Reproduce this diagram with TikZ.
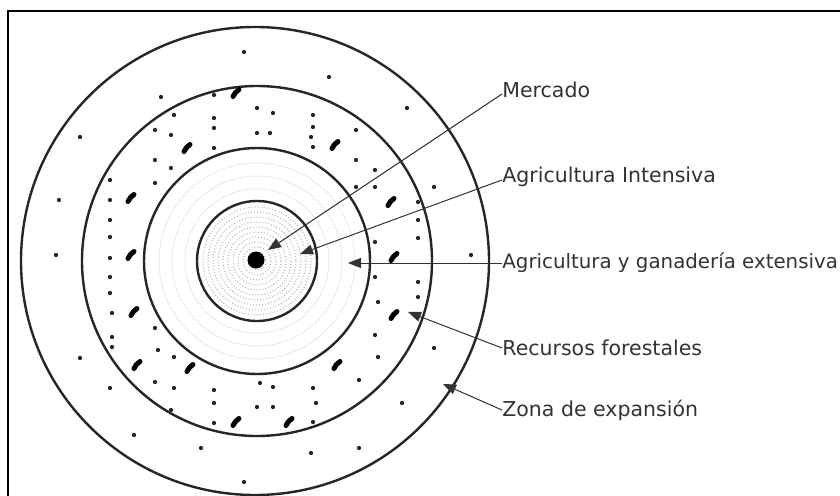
\documentclass[tikz,border=0pt]{standalone}
\usepackage{fontspec}
\setmainfont{DejaVu Sans}
\usetikzlibrary{arrows.meta}

\begin{document}
\begin{tikzpicture}[x=1pt, y=-1pt, thick,
		ring/.style = {draw, circle, inner sep=0pt, line width=2.4pt, black!85},
		lab/.style = {anchor=west, inner sep=0pt, text=black!80, font=\fontsize{20.5}{23}\selectfont},
		arr/.style = {-{Triangle[length=13pt, width=10pt]}, line width=1pt, black!80},
		pt/.style = {fill=black!85, circle, inner sep=0pt, minimum size=4.3pt},
		leaf/.style = {line width=5pt, line cap=round, black}]
		\useasboundingbox (0,0) rectangle (840,495);
		\clip (0,0) rectangle (840,495);
		\fill[white] (0,0) rectangle (840,495);
		\draw[line width=2pt] (8,11) rectangle (870,530);
		
		% faint rings
		\foreach \r in {9,14,...,54} \draw[gray!60, dotted, line width=1pt] (257,261) circle (\r);
		\foreach \r in {72,85,98} \draw[gray!15, line width=1pt] (257,261) circle (\r);
		
		% zones
		\node[ring, minimum size=120pt] (c1) at (257,261) {};
		\node[ring, minimum size=226pt] (c2) at (257,261) {};
		\node[ring, minimum size=350pt] (c3) at (257,261) {};
		\node[ring, minimum size=468pt] (c4) at (255,261) {};
		\node[circle, fill=black, inner sep=0pt, minimum size=17pt] (m) at (256,260) {};
		
		% dots
		\foreach \x/\y in {244/52, 329/77, 80/137, 407/108, 59/200, 56/255, 471/255, 80/358, 434/348,
			134/435, 201/448, 311/453, 359/448, 244/482, 402/403, 161/97, 110/388, 434/187}
			\node[pt] at (\x,\y) {};
		\foreach \x/\y in {214/95, 257/108, 273/113, 313/115, 313/127, 174/115, 214/118, 214/128,
			155/130, 171/135, 257/133, 270/133, 311/137, 356/130, 356/160, 375/170, 313/147, 214/148,
			155/160, 171/168, 110/180, 155/183, 110/200, 110/220, 110/237, 110/258, 110/277, 110/293,
			112/313, 112/337, 112/347, 155/328, 158/350, 174/357, 155/382, 174/388, 214/390, 214/403,
			257/407, 273/407, 260/383, 273/387, 313/388, 316/403, 359/380, 375/335, 378/357, 378/302,
			418/282, 418/297, 418/202, 418/220, 418/238, 375/242, 375/187, 356/187, 375/277,
			171/410, 214/423, 313/422}
			\node[pt] at (\x,\y) {};
		
		% forest marks
		\foreach \x/\y in {236/93, 187/148, 335/145, 131/198, 391/202, 131/255, 394/257, 134/312,
			394/315, 137/365, 190/368, 337/365, 236/422, 289/422}
			\draw[leaf] (\x-3,\y+3.5) to[bend left=15] (\x+3,\y-3.5);
		
		% labels
		\node[lab] (l1) at (502,90) {Mercado};
		\node[lab] (l2) at (502,177) {Agricultura Intensiva};
		\node[lab, font=\fontsize{19.8}{23}\selectfont] (l3) at (502,263) {Agricultura y ganadería extensiva};
		\node[lab] (l4) at (502,348) {Recursos forestales};
		\node[lab] (l5) at (502,410) {Zona de expansión};
		
		\coordinate (t1) at (268,250);
		\coordinate (t2) at (300,254);
		\coordinate (t3) at (348,263);
		\coordinate (t4) at (408,312);
		\coordinate (t5) at (443,384);
		
		\draw[arr] ([yshift=-4pt]l1.west) -- (t1);
		\draw[arr] ([yshift=-3pt]l2.west) -- (t2);
		\draw[arr] (l3.west) -- (t3);
		\draw[arr] (l4.west) -- (t4);
		\draw[arr] (l5.west) -- (t5);
	\end{tikzpicture}
\end{document}
